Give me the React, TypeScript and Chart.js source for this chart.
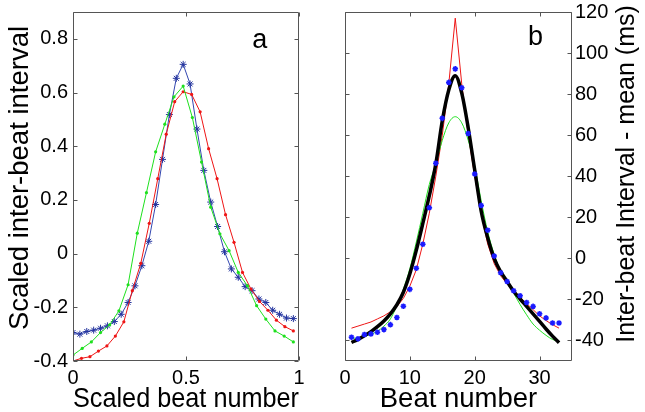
import React, { useEffect, useRef } from "react";
import { Chart, registerables } from "chart.js";
Chart.register(...registerables);

// ---------- Panel a (scaled) ----------
const blueA = [-0.294, -0.3, -0.29, -0.285, -0.278, -0.269, -0.253, -0.226, -0.182, -0.12, -0.045, 0.046, 0.183, 0.351, 0.518, 0.653, 0.705, 0.632, 0.464, 0.31, 0.192, 0.101, 0.007, -0.057, -0.088, -0.123, -0.138, -0.169, -0.182, -0.211, -0.226, -0.24, -0.242];
const redA = [-0.4, -0.39, -0.384, -0.363, -0.344, -0.307, -0.254, -0.138, -0.036, 0.113, 0.279, 0.445, 0.566, 0.603, 0.593, 0.528, 0.391, 0.279, 0.145, 0.042, -0.07, -0.132, -0.178, -0.211, -0.248, -0.272, -0.288];
const greenA = [-0.378, -0.353, -0.329, -0.294, -0.265, -0.213, -0.116, 0.076, 0.227, 0.379, 0.482, 0.584, 0.624, 0.507, 0.341, 0.173, 0.074, 0.011, -0.07, -0.12, -0.194, -0.244, -0.288, -0.307, -0.329];
const SCALED_END = 0.975; // last scaled beat position
const aXTicks = { min: 0, max: 1, step: 0.5 };
const aYTicks = { min: -0.4, max: 0.9, step: 0.2 };

// ---------- Panel b (ms) ----------
const beats = [1, 2, 3, 4, 5, 6, 7, 8, 9, 10, 11, 12, 13, 14, 15, 16, 17, 18, 19, 20, 21, 22, 23, 24, 25, 26, 27, 28, 29, 30, 31, 32, 33];
const starsB = [-38.4, -39.2, -37.1, -36.8, -36.0, -34.7, -32.3, -28.8, -23.3, -15.1, -4.8, 6.9, 24.7, 46.3, 68.2, 85.7, 92.3, 83.1, 60.8, 41.1, 25.8, 13.7, 1.1, -7.0, -11.3, -15.8, -18.2, -21.5, -23.4, -27.0, -29.0, -31.5, -31.5];
const blackB = [-41, -39.5, -37.7, -35.7, -33.3, -30.5, -27, -22.6, -16.5, -7.5, 4, 17, 30.5, 46, 67, 82, 89, 80.5, 63.5, 43, 23, 10, 0, -6.5, -11.3, -16, -19.8, -23.4, -27, -30.7, -34.4, -37.9, -41.1];
const redB = [-34, -33, -32, -31, -29.5, -28, -26, -23.5, -19.5, -13.5, -5.5, 7, 22, 40, 60, 85, 117, 85, 60, 40, 22, 7, -2.5, -8.5, -12.5, -16, -19, -22, -25, -28, -30.3, -32.3, -34];
const greenB = [-39, -38.8, -38, -37, -35.5, -33, -29.5, -23, -15, -5, 8, 22, 36, 46, 57.5, 66, 69, 66, 57.5, 45, 28, 13, 2, -6.5, -12, -17, -22.5, -27.5, -32, -35, -37.5, -39.5, -40.4];
const bXTicks = { min: 0, max: 35, step: 10 };
const bYTicks = { min: -50, max: 120, step: 20 };

const FONT = '"Liberation Sans", Arial, Helvetica, sans-serif';
const TICK_FONT = { family: FONT, size: 20 };
const TITLE_FONT = { family: FONT, size: 27.5 };

const scaledPoints = (vals: number[]) =>
  vals.map((y, k) => ({ x: (k * SCALED_END) / (vals.length - 1), y }));
const beatPoints = (vals: number[]) => vals.map((y, i) => ({ x: beats[i], y }));
const fmt = (v: any) => String(Math.round(Number(v) * 10) / 10);

const framePlugin = {
  id: "frame",
  afterDraw(chart: any, _args: any, opts: any) {
    const { ctx, chartArea } = chart;
    const { left, right, top, bottom } = chartArea;
    const xs = chart.scales.x;
    const ys = chart.scales.y;
    const L = Math.round(left) + 0.5;
    const R = Math.round(right) - 0.5;
    const T = Math.round(top) + 0.5;
    const B = Math.round(bottom) - 0.5;
    const tl = 4;
    ctx.save();
    ctx.strokeStyle = "#555";
    ctx.lineWidth = 1;
    ctx.beginPath();
    ctx.rect(L, T, R - L, B - T);
    for (const t of xs.ticks) {
      const p = Math.round(xs.getPixelForValue(t.value)) + 0.5;
      ctx.moveTo(p, B);
      ctx.lineTo(p, B - tl);
      ctx.moveTo(p, T);
      ctx.lineTo(p, T + tl);
    }
    for (const t of ys.ticks) {
      const p = Math.round(ys.getPixelForValue(t.value)) + 0.5;
      ctx.moveTo(L, p);
      ctx.lineTo(L + tl, p);
      ctx.moveTo(R, p);
      ctx.lineTo(R - tl, p);
    }
    ctx.stroke();
    ctx.fillStyle = "#000";
    if (opts.letter) {
      ctx.font = `27px ${FONT}`;
      ctx.textAlign = "left";
      ctx.textBaseline = "alphabetic";
      ctx.fillText(opts.letter, xs.getPixelForValue(opts.letterX), ys.getPixelForValue(opts.letterY));
    }
    if (opts.yTitle) {
      ctx.font = `${opts.yTitleSize}px ${FONT}`;
      ctx.textAlign = "center";
      ctx.textBaseline = "middle";
      ctx.translate(opts.yTitleX, opts.yTitleY);
      ctx.rotate(-Math.PI / 2);
      ctx.fillText(opts.yTitle, 0, 0);
    }
    ctx.restore();
  },
};

function ChartA() {
  const ref = useRef<HTMLCanvasElement>(null);
  useEffect(() => {
    const chart = new Chart(ref.current as HTMLCanvasElement, {
      type: "line",
      data: {
        datasets: [
          {
            data: scaledPoints(greenA),
            borderColor: "#1ee01e",
            backgroundColor: "#1ee01e",
            borderWidth: 1,
            pointRadius: 1.6,
            pointStyle: "circle",
            pointBorderWidth: 0,
          },
          {
            data: scaledPoints(redA),
            borderColor: "#ee1515",
            backgroundColor: "#ee1515",
            borderWidth: 1,
            pointRadius: 1.6,
            pointStyle: "circle",
            pointBorderWidth: 0,
          },
          {
            data: scaledPoints(blueA),
            borderColor: "#3347b0",
            backgroundColor: "#3347b0",
            borderWidth: 1,
            pointRadius: 3.5,
            pointStyle: "star",
            pointBorderColor: "#24349e",
            pointBorderWidth: 1,
          },
        ],
      },
      options: {
        animation: false,
        responsive: false,
        maintainAspectRatio: false,
        layout: { padding: { top: 12, right: 21, left: 0, bottom: 0 } },
        plugins: {
          legend: { display: false },
          tooltip: { enabled: false },
          frame: {
            letter: "a",
            letterX: 0.793,
            letterY: 0.765,
            yTitle: "Scaled inter-beat interval",
            yTitleSize: 27.5,
            yTitleX: 20,
            yTitleY: 178,
          },
        } as any,
        scales: {
          x: {
            type: "linear",
            min: aXTicks.min,
            max: aXTicks.max,
            afterFit: (s: any) => {
              s.height = 51;
              s.paddingLeft = 0;
              s.paddingRight = 0;
            },
            grid: { display: false, drawTicks: false },
            border: { display: false },
            ticks: {
              stepSize: aXTicks.step,
              includeBounds: false,
              autoSkip: false,
              maxRotation: 0,
              padding: 5,
              color: "#000",
              font: TICK_FONT,
              callback: fmt,
            },
            title: {
              display: true,
              text: "Scaled beat number",
              color: "#000",
              font: TITLE_FONT,
              padding: { top: 0, bottom: -4 },
            },
          },
          y: {
            type: "linear",
            min: aYTicks.min,
            max: aYTicks.max,
            afterFit: (s: any) => {
              s.width = 73;
              s.paddingTop = 0;
              s.paddingBottom = 0;
            },
            grid: { display: false, drawTicks: false },
            border: { display: false },
            ticks: {
              stepSize: aYTicks.step,
              includeBounds: false,
              padding: 5,
              color: "#000",
              font: TICK_FONT,
              callback: fmt,
            },
          },
        },
      },
      plugins: [framePlugin],
    } as any);
    return () => chart.destroy();
  }, []);
  return (
    <canvas
      ref={ref}
      width={320}
      height={412}
      style={{ position: "absolute", left: 0, top: 0, width: 320, height: 412 }}
    />
  );
}

function ChartB() {
  const ref = useRef<HTMLCanvasElement>(null);
  useEffect(() => {
    const chart = new Chart(ref.current as HTMLCanvasElement, {
      type: "line",
      data: {
        datasets: [
          {
            data: beatPoints(starsB),
            showLine: false,
            borderColor: "#1a1aff",
            backgroundColor: "#1a1aff",
            pointRadius: 2.8,
            pointStyle: "star",
            pointBorderColor: "#1a1aff",
            pointBorderWidth: 1.5,
          },
          {
            data: beatPoints(blackB),
            borderColor: "#000",
            borderWidth: 3.5,
            pointRadius: 0,
            cubicInterpolationMode: "monotone",
          },
          {
            data: beatPoints(greenB),
            borderColor: "#1ee01e",
            borderWidth: 1,
            pointRadius: 0,
            cubicInterpolationMode: "monotone",
          },
          {
            data: beatPoints(redB),
            borderColor: "#ee1515",
            borderWidth: 1,
            pointRadius: 0,
          },
        ],
      },
      options: {
        animation: false,
        responsive: false,
        maintainAspectRatio: false,
        layout: { padding: { top: 12, right: 0, left: 25, bottom: 0 } },
        plugins: {
          legend: { display: false },
          tooltip: { enabled: false },
          frame: {
            letter: "b",
            letterX: 28.2,
            letterY: 104,
            yTitle: "Inter-beat Interval - mean (ms)",
            yTitleSize: 25,
            yTitleX: 307,
            yTitleY: 174,
          },
        } as any,
        scales: {
          x: {
            type: "linear",
            min: bXTicks.min,
            max: bXTicks.max,
            afterFit: (s: any) => {
              s.height = 51;
              s.paddingLeft = 0;
              s.paddingRight = 0;
            },
            grid: { display: false, drawTicks: false },
            border: { display: false },
            ticks: {
              stepSize: bXTicks.step,
              includeBounds: false,
              autoSkip: false,
              maxRotation: 0,
              padding: 5,
              color: "#000",
              font: TICK_FONT,
            },
            title: {
              display: true,
              text: "Beat number",
              color: "#000",
              font: TITLE_FONT,
              padding: { top: 0, bottom: -4 },
            },
          },
          y: {
            type: "linear",
            position: "right",
            min: bYTicks.min,
            max: bYTicks.max,
            afterFit: (s: any) => {
              s.width = 73;
              s.paddingTop = 0;
              s.paddingBottom = 0;
            },
            grid: { display: false, drawTicks: false },
            border: { display: false },
            ticks: {
              stepSize: bYTicks.step,
              includeBounds: false,
              padding: 3,
              color: "#000",
              font: TICK_FONT,
            },
          },
        },
      },
      plugins: [framePlugin],
    } as any);
    return () => chart.destroy();
  }, []);
  return (
    <canvas
      ref={ref}
      width={325}
      height={412}
      style={{ position: "absolute", left: 320, top: 0, width: 325, height: 412 }}
    />
  );
}

export default function App() {
  return (
    <div
      style={{
        position: "absolute",
        left: 0,
        top: 0,
        width: 645,
        height: 412,
        background: "#fff",
        overflow: "hidden",
      }}
    >
      <ChartA />
      <ChartB />
    </div>
  );
}
